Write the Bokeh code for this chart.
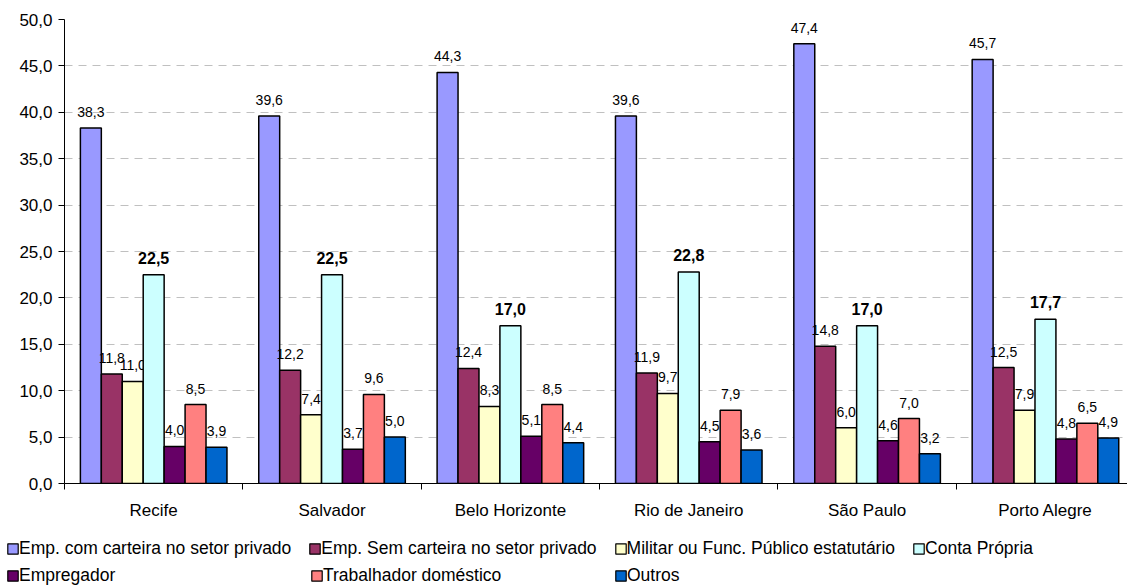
import numpy as np
from bokeh.plotting import figure
from bokeh.layouts import column
from bokeh.models import (Range1d, FixedTicker, Legend, LegendItem, ColumnDataSource)
from bokeh.core.properties import value
from bokeh.embed import file_html
from bokeh.resources import INLINE

cities = ["Recife", "Salvador", "Belo Horizonte", "Rio de Janeiro", "São Paulo", "Porto Alegre"]
series_names = [
    "Emp. com carteira no setor privado",
    "Emp. Sem carteira no setor privado",
    "Militar ou Func. Público estatutário",
    "Conta Própria",
    "Empregador",
    "Trabalhador doméstico",
    "Outros",
]
emp_com_carteira = [38.3, 39.6, 44.3, 39.6, 47.4, 45.7]
emp_sem_carteira = [11.8, 12.2, 12.4, 11.9, 14.8, 12.5]
militar_func_publico = [11.0, 7.4, 8.3, 9.7, 6.0, 7.9]
conta_propria = [22.5, 22.5, 17.0, 22.8, 17.0, 17.7]
empregador = [4.0, 3.7, 5.1, 4.5, 4.6, 4.8]
trabalhador_domestico = [8.5, 9.6, 8.5, 7.9, 7.0, 6.5]
outros = [3.9, 5.0, 4.4, 3.6, 3.2, 4.9]
series_values = [emp_com_carteira, emp_sem_carteira, militar_func_publico,
                 conta_propria, empregador, trabalhador_domestico, outros]
colors = ["#9999FF", "#993366", "#FFFFCC", "#CCFFFF", "#660066", "#FF8080", "#0066CC"]
bold_series = [False, False, False, True, False, False, False]
y_ticks = [0, 5, 10, 15, 20, 25, 30, 35, 40, 45, 50]
y_tick_labels = ["0,0", "5,0", "10,0", "15,0", "20,0", "25,0", "30,0", "35,0", "40,0", "45,0", "50,0"]

FONT = "Liberation Sans"

p = figure(width=1127, height=535, output_backend="svg", toolbar_location=None,
           x_range=Range1d(0, 5.96), y_range=Range1d(0, 50),
           min_border_left=64, min_border_right=0, min_border_top=19, min_border_bottom=52)
p.outline_line_color = None
p.background_fill_color = "white"
p.border_fill_color = "white"
p.frame_align = False

# separate strip that carries the legend under the chart
pl = figure(width=1127, height=50, output_backend="svg", toolbar_location=None,
            x_range=Range1d(0, 1), y_range=Range1d(0, 1),
            x_axis_location=None, y_axis_location=None,
            min_border_left=0, min_border_right=0, min_border_top=0, min_border_bottom=0)
pl.grid.visible = False
pl.outline_line_color = None
pl.background_fill_color = "white"
pl.border_fill_color = "white"
pl.frame_align = False

n_series = len(series_values)
bw = 0.1174
base_x = np.arange(len(cities)) + 0.5
items = []
for i, (name, vals, col, bold) in enumerate(zip(series_names, series_values, colors, bold_series)):
    xs = base_x + (i - (n_series - 1) / 2) * bw
    labels = [f"{v:.1f}".replace(".", ",") for v in vals]
    src = ColumnDataSource(dict(x=xs, top=vals, label=labels))
    p.vbar(x="x", top="top", width=bw, source=src, fill_color=col,
           line_color="black", line_width=1.5)
    p.text(x="x", y="top", text="label", source=src, text_align="center",
           text_baseline="middle", y_offset=-17 if bold else -16,
           text_font=value(FONT),
           text_font_size="16px" if bold else "14px",
           text_font_style="bold" if bold else "normal",
           text_color="black")
    proxy = pl.vbar(x="x", top="top", width=bw, source=src, fill_color=col,
                    line_color="black", line_width=1.2, visible=False)
    items.append(LegendItem(label=name, renderers=[proxy]))

# axes
p.xaxis.ticker = FixedTicker(ticks=list(base_x), minor_ticks=list(range(len(cities) + 1)))
p.xaxis.major_label_overrides = {float(b): c for b, c in zip(base_x, cities)}
p.xaxis.major_tick_out = 0
p.xaxis.major_tick_in = 0
p.xaxis.minor_tick_out = 6
p.xaxis.minor_tick_in = 0
p.xaxis.minor_tick_line_color = "black"
p.xaxis.axis_line_color = "black"
p.xaxis.major_label_standoff = 11
p.xaxis.major_label_text_font = FONT
p.xaxis.major_label_text_font_size = "17px"
p.xaxis.major_label_text_color = "black"

p.yaxis.ticker = FixedTicker(ticks=y_ticks, minor_ticks=[])
p.yaxis.major_label_overrides = {t: l for t, l in zip(y_ticks, y_tick_labels)}
p.yaxis.major_tick_out = 6
p.yaxis.major_tick_in = 0
p.yaxis.major_tick_line_color = "black"
p.yaxis.axis_line_color = "black"
p.yaxis.major_label_standoff = 6
p.yaxis.major_label_text_font = FONT
p.yaxis.major_label_text_font_size = "17px"
p.yaxis.major_label_text_color = "black"

p.xgrid.grid_line_color = None
p.ygrid.ticker = FixedTicker(ticks=y_ticks[1:])
p.ygrid.grid_line_color = "#C0C0C0"
p.ygrid.grid_line_dash = "8 6"
p.ygrid.grid_line_width = 1

common = dict(orientation="horizontal", label_text_font=FONT, label_text_font_size="17.5px",
              label_text_color="black", glyph_width=13, glyph_height=13, label_standoff=0,
              label_height=20, spacing=17, padding=0, margin=0,
              border_line_color=None, background_fill_alpha=0, click_policy="none")
leg1 = Legend(items=items[:4], location=(6, 26), **common)
leg2 = Legend(items=items[4:], location=(6, -1), label_width=274, **common)
pl.add_layout(leg1, "center")
pl.add_layout(leg2, "center")

layout = column(p, pl, spacing=0)
open("out.html", "w").write(file_html(layout, INLINE))
